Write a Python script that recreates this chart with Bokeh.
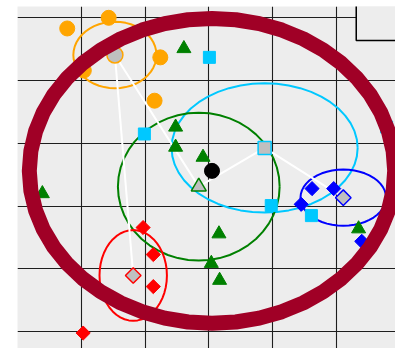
import numpy as np
from bokeh.plotting import figure
from bokeh.models import BoxAnnotation
from bokeh.embed import file_html
from bokeh.resources import INLINE

# Cluster members (x, y)
orange_x = [0.78, 1.43, 2.24, 1.04, 2.15]
orange_y = [4.83, 5.00, 4.37, 4.16, 3.68]
cyan_x = [3.01, 1.99, 3.98, 4.61, 5.79]
cyan_y = [4.37, 3.15, 2.01, 1.85, 3.26]
green_x = [2.61, 2.48, 2.48, 2.91, 0.39, 3.16, 5.35, 3.04, 3.17]
green_y = [4.51, 3.26, 2.94, 2.78, 2.20, 1.56, 1.64, 1.09, 0.82]
blue_x = [4.62, 4.96, 4.45, 5.40, 6.12]
blue_y = [2.28, 2.28, 2.03, 1.44, 2.65]
red_x = [1.97, 2.13, 2.13, 1.03]
red_y = [1.66, 1.23, 0.72, -0.02]

grid_x = [1, 2, 3, 4, 5]
grid_y = [0, 1, 2, 3, 4, 5]

# links drawn between cluster centres
links = [("orange", "red"), ("orange", "green"), ("green", "cyan"), ("cyan", "blue")]

clusters = {
    "orange": dict(x=orange_x, y=orange_y, color="#ffa500", marker="circle", size=15, angle=0.0),
    "cyan": dict(x=cyan_x, y=cyan_y, color="#00c8ff", marker="square", size=12, angle=0.0),
    "green": dict(x=green_x, y=green_y, color="#008000", marker="triangle", size=14, angle=0.0),
    "blue": dict(x=blue_x, y=blue_y, color="#0000ff", marker="square", size=10, angle=np.pi / 4),
    "red": dict(x=red_x, y=red_y, color="#ff0000", marker="square", size=10, angle=np.pi / 4),
}

BG = "#ededed"

p = figure(width=395, height=348, output_backend="svg", toolbar_location=None,
           x_range=(0, 5.929), y_range=(-0.266, 5.180),
           min_border_left=17, min_border_top=6, min_border_right=0, min_border_bottom=0,
           background_fill_color=BG, border_fill_color="white")
p.outline_line_color = None
p.xaxis.ticker = grid_x
p.yaxis.ticker = grid_y
p.xaxis.visible = False
p.yaxis.visible = False
p.grid.grid_line_color = "#1e1e1e"
p.grid.grid_line_width = 1.1

t = np.linspace(0, 2 * np.pi, 49)

centres = {}
for name, c in clusters.items():
    xs = np.array(c["x"], dtype=float)
    ys = np.array(c["y"], dtype=float)
    mx, my = xs.mean(), ys.mean()
    sx, sy = xs.std(ddof=1), ys.std(ddof=1)
    centres[name] = (mx, my)
    p.line(mx + sx * np.cos(t), my + sy * np.sin(t), line_color=c["color"], line_width=2)

for a, b in links:
    p.line([centres[a][0], centres[b][0]], [centres[a][1], centres[b][1]],
           line_color="white", line_width=2)

for name, c in clusters.items():
    p.scatter(c["x"], c["y"], marker=c["marker"], size=c["size"], angle=c["angle"],
              fill_color=c["color"], line_color=c["color"])
    mx, my = centres[name]
    p.scatter([mx], [my], marker=c["marker"], size=c["size"] + 1, angle=c["angle"],
              fill_color="#bfbfbf", line_color=c["color"], line_width=1.5)

all_x = np.concatenate([np.array(c["x"], dtype=float) for c in clusters.values()])
all_y = np.concatenate([np.array(c["y"], dtype=float) for c in clusters.values()])
gx, gy = all_x.mean(), all_y.mean()
p.scatter([gx], [gy], marker="circle", size=15, fill_color="black", line_color="black")

# overall spread ellipse
k = 1.8
p.patch(gx + k * all_x.std(ddof=1) * np.cos(t), gy + k * all_y.std(ddof=1) * np.sin(t),
        fill_color=None, line_color="#a00026", line_width=15)

# legend frame in the top-right corner
p.add_layout(BoxAnnotation(left=5.313, bottom=4.638, right=7.0, top=6.0,
                           fill_color=BG, fill_alpha=1.0,
                           line_color="black", line_alpha=1.0, line_width=1.5))

open("out.html", "w").write(file_html(p, INLINE))
